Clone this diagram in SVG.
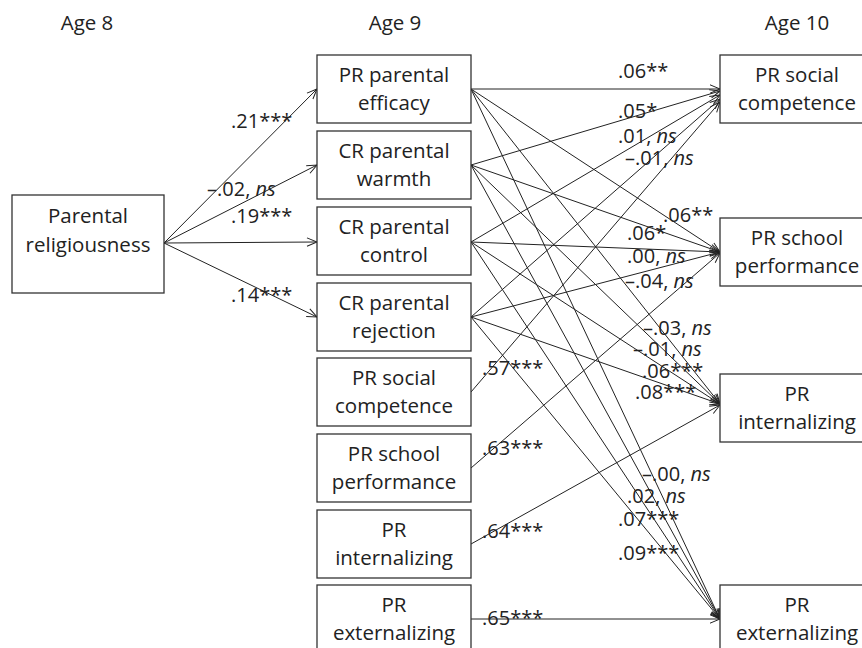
<svg xmlns="http://www.w3.org/2000/svg" width="862" height="648" viewBox="0 0 862 648">
<defs>
<marker id="arr" markerUnits="userSpaceOnUse" markerWidth="12" markerHeight="12" refX="10" refY="5" orient="auto" overflow="visible">
<path d="M0,0.8 L10,5 L0,9.2" fill="none" stroke="#222" stroke-width="1"/>
</marker>
<style>
.box{fill:#fff;stroke:#333;stroke-width:1.3}
.t{font-family:"Open Sans","Liberation Sans",sans-serif;font-size:20.5px;fill:#222;text-anchor:middle}
.l{font-family:"Open Sans","Liberation Sans",sans-serif;font-size:20px;fill:#222}
.e{fill:none;stroke:#222;stroke-width:1;marker-end:url(#arr)}
.i{font-style:italic}
</style>
</defs>
<rect width="862" height="648" fill="#fff"/>

<g id="ages">
<text class="t" x="87" y="30">Age 8</text>
<text class="t" x="395" y="30">Age 9</text>
<text class="t" x="797" y="30">Age 10</text>
</g>

<g id="connectors">
<line class="e" x1="164" y1="243" x2="317" y2="89"/>
<line class="e" x1="164" y1="243" x2="317" y2="165"/>
<line class="e" x1="164" y1="243" x2="317" y2="242"/>
<line class="e" x1="164" y1="243" x2="317" y2="317"/>

<line class="e" x1="471" y1="89" x2="720" y2="89"/>
<line class="e" x1="471" y1="165" x2="720" y2="91"/>
<line class="e" x1="471" y1="242" x2="720" y2="95"/>
<line class="e" x1="471" y1="317" x2="720" y2="99"/>
<line class="e" x1="471" y1="392" x2="720" y2="102"/>

<line class="e" x1="471" y1="89" x2="720" y2="252"/>
<line class="e" x1="471" y1="165" x2="720" y2="252"/>
<line class="e" x1="471" y1="242" x2="720" y2="252"/>
<line class="e" x1="471" y1="317" x2="720" y2="252"/>
<line class="e" x1="471" y1="468" x2="720" y2="253"/>

<line class="e" x1="471" y1="89" x2="720" y2="404"/>
<line class="e" x1="471" y1="165" x2="720" y2="404"/>
<line class="e" x1="471" y1="242" x2="720" y2="404"/>
<line class="e" x1="471" y1="317" x2="720" y2="404"/>
<line class="e" x1="471" y1="544" x2="720" y2="405"/>

<line class="e" x1="471" y1="89" x2="720" y2="619"/>
<line class="e" x1="471" y1="165" x2="720" y2="619"/>
<line class="e" x1="471" y1="242" x2="720" y2="619"/>
<line class="e" x1="471" y1="317" x2="720" y2="619"/>
<line class="e" x1="471" y1="619" x2="720" y2="619"/>
</g>

<g id="labels">
<text class="l" x="231" y="128">.21***</text>
<text class="l" x="207" y="196">–.02, <tspan class="i">ns</tspan></text>
<text class="l" x="231" y="223">.19***</text>
<text class="l" x="231" y="302">.14***</text>

<text class="l" x="618" y="78">.06**</text>
<text class="l" x="618" y="118">.05*</text>
<text class="l" x="618" y="143">.01, <tspan class="i">ns</tspan></text>
<text class="l" x="625" y="165">–.01, <tspan class="i">ns</tspan></text>

<text class="l" x="663" y="222">.06**</text>
<text class="l" x="627" y="240">.06*</text>
<text class="l" x="627" y="263">.00, <tspan class="i">ns</tspan></text>
<text class="l" x="625" y="288">–.04, <tspan class="i">ns</tspan></text>

<text class="l" x="643" y="335">–.03, <tspan class="i">ns</tspan></text>
<text class="l" x="633" y="356">–.01, <tspan class="i">ns</tspan></text>
<text class="l" x="642" y="378">.06***</text>
<text class="l" x="635" y="399">.08***</text>

<text class="l" x="642" y="481">–.00, <tspan class="i">ns</tspan></text>
<text class="l" x="627" y="503">.02, <tspan class="i">ns</tspan></text>
<text class="l" x="618" y="526">.07***</text>
<text class="l" x="618" y="560">.09***</text>

<text class="l" x="482" y="375">.57***</text>
<text class="l" x="482" y="455">.63***</text>
<text class="l" x="482" y="538">.64***</text>
<text class="l" x="482" y="625">.65***</text>
</g>

<g id="n-religiousness">
<rect class="box" x="12" y="195" width="152" height="98"/>
<text class="t" x="88" y="223">Parental</text>
<text class="t" x="88" y="252">religiousness</text>
</g>

<g id="n-efficacy">
<rect class="box" x="317" y="55" width="154" height="68"/>
<text class="t" x="394" y="82">PR parental</text>
<text class="t" x="394" y="110">efficacy</text>
</g>
<g id="n-warmth">
<rect class="box" x="317" y="131" width="154" height="68"/>
<text class="t" x="394" y="158">CR parental</text>
<text class="t" x="394" y="186">warmth</text>
</g>
<g id="n-control">
<rect class="box" x="317" y="207" width="154" height="68"/>
<text class="t" x="394" y="234">CR parental</text>
<text class="t" x="394" y="262">control</text>
</g>
<g id="n-rejection">
<rect class="box" x="317" y="283" width="154" height="68"/>
<text class="t" x="394" y="310">CR parental</text>
<text class="t" x="394" y="338">rejection</text>
</g>
<g id="n-social9">
<rect class="box" x="317" y="358" width="154" height="68"/>
<text class="t" x="394" y="385">PR social</text>
<text class="t" x="394" y="413">competence</text>
</g>
<g id="n-school9">
<rect class="box" x="317" y="434" width="154" height="68"/>
<text class="t" x="394" y="461">PR school</text>
<text class="t" x="394" y="489">performance</text>
</g>
<g id="n-intern9">
<rect class="box" x="317" y="510" width="154" height="68"/>
<text class="t" x="394" y="537">PR</text>
<text class="t" x="394" y="565">internalizing</text>
</g>
<g id="n-extern9">
<rect class="box" x="317" y="585" width="154" height="68"/>
<text class="t" x="394" y="612">PR</text>
<text class="t" x="394" y="640">externalizing</text>
</g>

<g id="n-social10">
<rect class="box" x="720" y="55" width="154" height="68"/>
<text class="t" x="797" y="82">PR social</text>
<text class="t" x="797" y="110">competence</text>
</g>
<g id="n-school10">
<rect class="box" x="720" y="218" width="154" height="68"/>
<text class="t" x="797" y="245">PR school</text>
<text class="t" x="797" y="273">performance</text>
</g>
<g id="n-intern10">
<rect class="box" x="720" y="374" width="154" height="68"/>
<text class="t" x="797" y="401">PR</text>
<text class="t" x="797" y="429">internalizing</text>
</g>
<g id="n-extern10">
<rect class="box" x="720" y="585" width="154" height="68"/>
<text class="t" x="797" y="612">PR</text>
<text class="t" x="797" y="640">externalizing</text>
</g>
</svg>
